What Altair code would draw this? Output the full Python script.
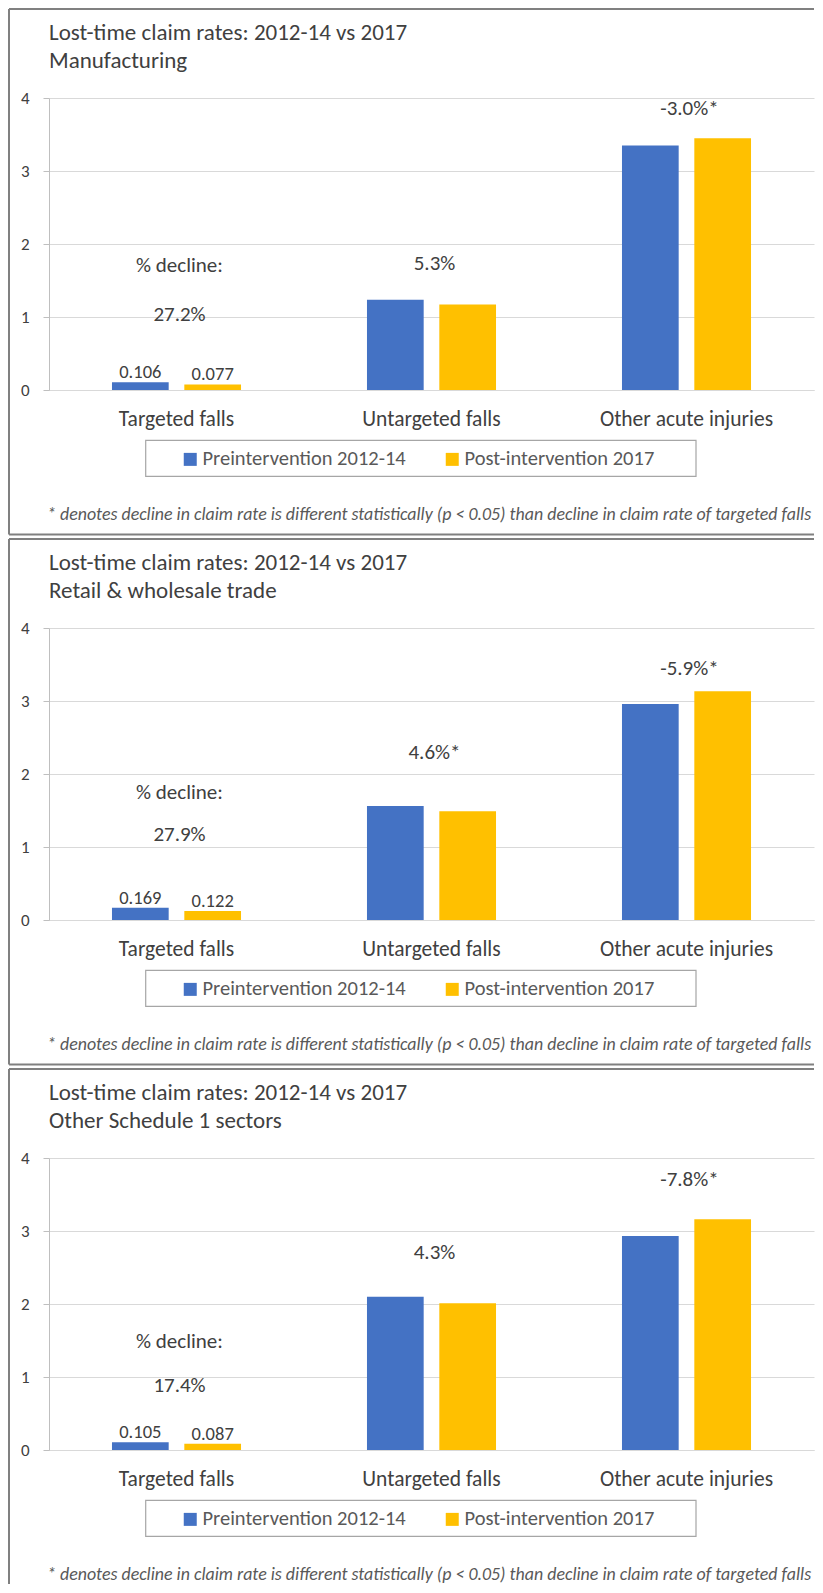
import altair as alt
import pandas as pd

# ---------------- data ----------------
categories = ["Targeted falls", "Untargeted falls", "Other acute injuries"]
series = ["Preintervention 2012-14", "Post-intervention 2017"]
sectors = ["Manufacturing", "Retail & wholesale trade", "Other Schedule 1 sectors"]

pre_rates = [[0.106, 1.235, 3.35], [0.169, 1.56, 2.96], [0.105, 2.10, 2.93]]
post_rates = [[0.077, 1.17, 3.45], [0.122, 1.49, 3.135], [0.087, 2.01, 3.16]]
pre_labels = ["0.106", "0.169", "0.105"]
post_labels = ["0.077", "0.122", "0.087"]

decline_text = [["27.2%", "5.3%", "-3.0%*"],
                ["27.9%", "4.6%*", "-5.9%*"],
                ["17.4%", "4.3%", "-7.8%*"]]
# annotation heights (in axis units) for the decline labels
decline_y = [[0.94, 1.64, 3.77],
             [1.08, 2.2, 3.36],
             [0.80, 2.62, 3.62]]
heading_text = "% decline:"
heading_y = [1.62, 1.66, 1.40]

title_line = "Lost-time claim rates: 2012-14 vs 2017"
footnote = ("* denotes decline in claim rate is different statistically (p < 0.05) "
            "than decline in claim rate of targeted falls")
colors = ["#4472C4", "#FFC000"]
y_ticks = [0, 1, 2, 3, 4]

# ---------------- layout ----------------
W, H = 765, 292
PITCH = 530
FONT = "Calibri, Carlito, Lato, sans-serif"
DARK = "#404040"
GREY = "#595959"
BORDER = "#808080"


def panel(i):
    rows = []
    for c, cat in enumerate(categories):
        rows.append(dict(category=cat, series=series[0], rate=pre_rates[i][c]))
        rows.append(dict(category=cat, series=series[1], rate=post_rates[i][c]))
    df = pd.DataFrame(rows)

    lab = pd.DataFrame({
        "category": [categories[0], categories[0]],
        "series": series,
        "rate": [pre_rates[i][0], post_rates[i][0]],
        "label": [pre_labels[i], post_labels[i]],
    })
    ann = pd.DataFrame({
        "category": categories + [categories[0]],
        "yv": decline_y[i] + [heading_y[i]],
        "label": decline_text[i] + [heading_text],
    })
    one = pd.DataFrame({"k": [0]})

    x_enc = alt.X(
        "category:N", sort=categories,
        scale=alt.Scale(paddingInner=0, paddingOuter=0),
        axis=alt.Axis(title=None, labelAngle=0, ticks=False, tickSize=0,
                      labelPadding=18, labelFontSize=21.5, labelColor=DARK,
                      labelFont=FONT, domainColor="#d9d9d9", domainWidth=1,
                      grid=False),
    )
    xo_enc = alt.XOffset("series:N", sort=series,
                         scale=alt.Scale(paddingInner=0.217, paddingOuter=0.871))
    y_enc = alt.Y(
        "rate:Q",
        scale=alt.Scale(domain=[0, 4], nice=False, zero=True),
        axis=alt.Axis(title=None, values=y_ticks, format="d", grid=True,
                      gridColor="#d9d9d9", gridWidth=1, domainColor="#bfbfbf",
                      tickColor="#bfbfbf", tickSize=6, labelPadding=14,
                      labelFontSize=17, labelColor=DARK, labelFont=FONT),
    )

    bars = alt.Chart(df).mark_bar(size=56.7).encode(
        x=x_enc,
        xOffset=xo_enc,
        y=y_enc,
        color=alt.Color(
            "series:N", sort=series,
            scale=alt.Scale(domain=series, range=colors),
            legend=alt.Legend(
                orient="none", legendX=131, legendY=351, direction="horizontal",
                title=None, symbolType="square", symbolSize=169,
                symbolStrokeWidth=0, labelFontSize=20.5, labelColor=GREY,
                labelFont=FONT, columnPadding=36, labelOffset=2, padding=0,
                labelLimit=400),
        ),
    )

    bar_text = alt.Chart(lab).mark_text(
        baseline="alphabetic", dy=-4, fontSize=18.5, color=DARK, font=FONT
    ).encode(
        x=alt.X("category:N", sort=categories),
        xOffset=alt.XOffset("series:N", sort=series),
        y=alt.Y("rate:Q"),
        text="label:N",
    )

    ann_text = alt.Chart(ann).mark_text(
        baseline="alphabetic", fontSize=21, color=DARK, font=FONT, dx=3
    ).encode(
        x=alt.X("category:N", sort=categories),
        y=alt.Y("yv:Q"),
        text="label:N",
    )

    title1 = alt.Chart(one).mark_text(
        align="left", baseline="alphabetic", fontSize=23, color=DARK,
        font=FONT, text=title_line
    ).encode(x=alt.value(0), y=alt.value(-57.7))
    title2 = alt.Chart(one).mark_text(
        align="left", baseline="alphabetic", fontSize=23, color=DARK,
        font=FONT, text=sectors[i]
    ).encode(x=alt.value(0), y=alt.value(-30))

    foot = alt.Chart(one).mark_text(
        align="left", baseline="alphabetic", fontSize=17.9, fontStyle="italic",
        color=GREY, font=FONT, text=footnote
    ).encode(x=alt.value(-2), y=alt.value(422.3))

    legend_box = alt.Chart(one).mark_rect(
        fillOpacity=0, stroke="#a6a6a6", strokeWidth=1.2
    ).encode(x=alt.value(96.7), x2=alt.value(647), y=alt.value(342.3),
             y2=alt.value(378.3))

    bottom = 426 if i == 2 else 436.5
    top_rule = alt.Chart(one).mark_rule(color=BORDER, strokeWidth=2).encode(
        x=alt.value(-40), x2=alt.value(W), y=alt.value(-89))
    left_rule = alt.Chart(one).mark_rule(color=BORDER, strokeWidth=2).encode(
        x=alt.value(-40), y=alt.value(-89), y2=alt.value(bottom))
    layers = [top_rule, left_rule, legend_box, bars, bar_text, ann_text,
              title1, title2, foot]
    if i < 2:
        bot_rule = alt.Chart(one).mark_rule(color=BORDER, strokeWidth=2).encode(
            x=alt.value(-40), x2=alt.value(W), y=alt.value(bottom))
        layers.insert(0, bot_rule)

    return alt.layer(*layers).properties(width=W, height=H)


chart = alt.vconcat(
    *[panel(i) for i in range(3)], spacing=PITCH - H, bounds="flush"
).resolve_scale(
    color="independent", x="independent", y="independent", xOffset="independent"
).resolve_legend(color="independent").properties(
    padding=0, background="white"
).configure_view(stroke=None)

chart.save("out.html", embed_options={"renderer": "svg", "actions": False})
